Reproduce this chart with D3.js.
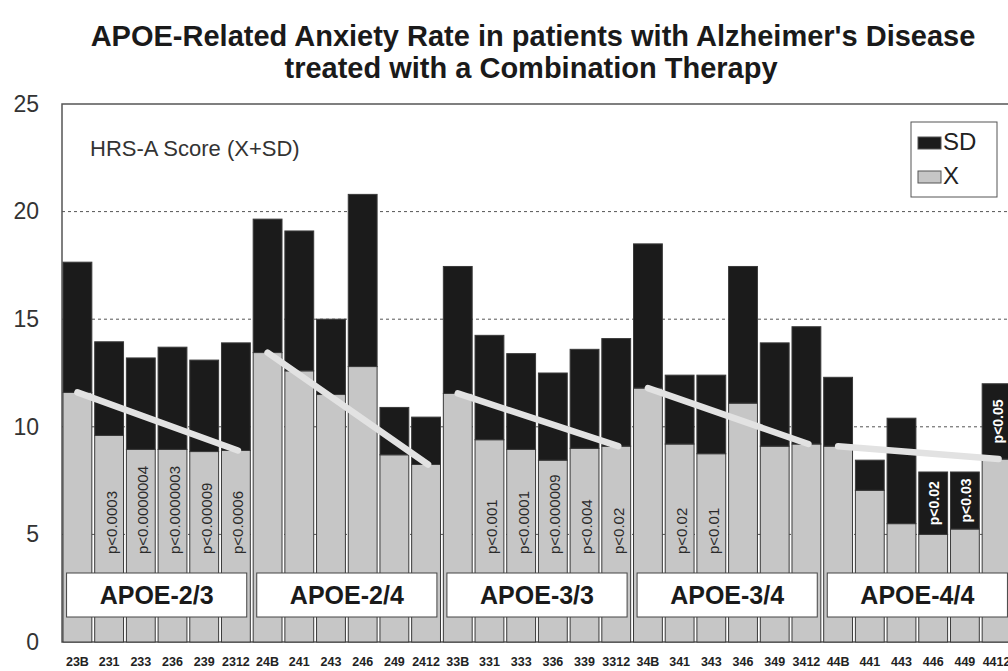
<!DOCTYPE html>
<html>
<head>
<meta charset="utf-8">
<script src="https://cdn.jsdelivr.net/npm/d3@7"></script>
<style>
  html, body { margin: 0; padding: 0; background: #fff; }
  svg { display: block; }
  text { font-family: "Liberation Sans", Arial, sans-serif; }
</style>
</head>
<body>
<svg id="chart" width="1008" height="671"></svg>
<script>
// Patient subgroups (genotype + treatment month), in plotting order
const categories = ["23B","231","233","236","239","2312",
                    "24B","241","243","246","249","2412",
                    "33B","331","333","336","339","3312",
                    "34B","341","343","346","349","3412",
                    "44B","441","443","446","449","4412"];

// Mean HRS-A score (X)
const meanX = [11.6, 9.6, 8.95, 8.95, 8.85, 8.9,
               13.45, 12.6, 11.5, 12.8, 8.7, 8.25,
               11.55, 9.4, 8.95, 8.45, 9.0, 9.1,
               11.8, 9.2, 8.75, 11.1, 9.1, 9.2,
               9.1, 7.05, 5.5, 5.0, 5.25, 8.5];

// Standard deviation (SD), stacked on top of the mean
const sdValues = [6.05, 4.35, 4.25, 4.75, 4.25, 5.0,
                  6.2, 6.5, 3.5, 8.0, 2.2, 2.2,
                  5.9, 4.85, 4.45, 4.05, 4.6, 5.0,
                  6.7, 3.2, 3.65, 6.35, 4.8, 5.45,
                  3.2, 1.4, 4.9, 2.9, 2.65, 3.5];

// APOE genotype groups, six subgroups each
const groups = ["APOE-2/3", "APOE-2/4", "APOE-3/3", "APOE-3/4", "APOE-4/4"];
const groupSize = 6;

// Significance vs. baseline; onSD marks labels printed on the SD segment
const pLabels = [
  {cat: "231",  text: "p<0.0003",    onSD: false},
  {cat: "233",  text: "p<0.0000004", onSD: false},
  {cat: "236",  text: "p<0.0000003", onSD: false},
  {cat: "239",  text: "p<0.00009",   onSD: false},
  {cat: "2312", text: "p<0.0006",    onSD: false},
  {cat: "331",  text: "p<0.001",     onSD: false},
  {cat: "333",  text: "p<0.0001",    onSD: false},
  {cat: "336",  text: "p<0.000009",  onSD: false},
  {cat: "339",  text: "p<0.004",     onSD: false},
  {cat: "3312", text: "p<0.02",      onSD: false},
  {cat: "341",  text: "p<0.02",      onSD: false},
  {cat: "343",  text: "p<0.01",      onSD: false},
  {cat: "446",  text: "p<0.02",      onSD: true},
  {cat: "449",  text: "p<0.03",      onSD: true},
  {cat: "4412", text: "p<0.05",      onSD: true}
];

const yTicks = [0, 5, 10, 15, 20, 25];
const gridTicks = [5, 10, 15, 20];

const svg = d3.select("#chart");
const plotLeft = 62, plotTop = 104, plotBottom = 642, plotRight = 1011;

const x = d3.scaleBand().domain(categories).range([plotLeft + 1, plotRight]).paddingInner(0.09).paddingOuter(0);
const y = d3.scaleLinear().domain([0, 25]).range([plotBottom, plotTop]);

const rows = categories.map((c, i) => ({cat: c, x: meanX[i], sd: sdValues[i]}));

// Title
svg.append("text").attr("x", 533).attr("y", 46).attr("text-anchor", "middle")
  .attr("font-size", 29).attr("font-weight", "bold").attr("fill", "#1a1a1a")
  .text("APOE-Related Anxiety Rate in patients with Alzheimer's Disease");
svg.append("text").attr("x", 531).attr("y", 78).attr("text-anchor", "middle")
  .attr("font-size", 29).attr("font-weight", "bold").attr("fill", "#1a1a1a")
  .text("treated with a Combination Therapy");

// Dashed gridlines (behind bars)
svg.append("g").selectAll("line").data(gridTicks).join("line")
  .attr("x1", plotLeft).attr("x2", plotRight)
  .attr("y1", d => y(d)).attr("y2", d => y(d))
  .attr("stroke", "#555").attr("stroke-width", 1).attr("stroke-dasharray", "3,3");

// Plot frame
svg.append("path")
  .attr("d", `M${plotRight},${plotTop}H${plotLeft}V${plotBottom}H${plotRight}`)
  .attr("fill", "none").attr("stroke", "#555").attr("stroke-width", 1.5);

// Y axis labels
const yAxis = d3.axisLeft(y).tickValues(yTicks).tickSize(0).tickPadding(0).tickFormat(d3.format("d"));
const gy = svg.append("g").attr("transform", `translate(39,0)`).call(yAxis);
gy.select(".domain").remove();
gy.selectAll("text").attr("font-size", 23).attr("fill", "#333")
  .attr("font-family", "Liberation Sans, Arial, sans-serif");

// Stacked bars: mean (grey) + SD (black)
const bars = svg.append("g");
bars.selectAll("rect.mean").data(rows).join("rect").attr("class", "mean")
  .attr("x", d => x(d.cat)).attr("width", x.bandwidth())
  .attr("y", d => y(d.x)).attr("height", d => y(0) - y(d.x))
  .attr("fill", "#c6c6c6").attr("stroke", "#3a3a3a").attr("stroke-width", 1);
bars.selectAll("rect.sd").data(rows).join("rect").attr("class", "sd")
  .attr("x", d => x(d.cat)).attr("width", x.bandwidth())
  .attr("y", d => y(d.x + d.sd)).attr("height", d => y(d.x) - y(d.x + d.sd))
  .attr("fill", "#1b1b1b").attr("stroke", "#3a3a3a").attr("stroke-width", 1);

// Trend of the mean within each genotype group (first to last subgroup)
const trend = svg.append("g");
groups.forEach((g, gi) => {
  const a = rows[gi * groupSize], b = rows[gi * groupSize + groupSize - 1];
  trend.append("line")
    .attr("x1", x(a.cat) + x.bandwidth() / 2).attr("y1", y(a.x))
    .attr("x2", x(b.cat) + x.bandwidth() / 2 + 2).attr("y2", y(b.x))
    .attr("stroke", "#e2e2e2").attr("stroke-width", 6.5).attr("stroke-linecap", "round");
});

// p-value annotations (rotated)
const pg = svg.append("g");
pLabels.forEach(p => {
  const r = rows[categories.indexOf(p.cat)];
  const cx = x(p.cat) + x.bandwidth() / 2;
  if (!p.onSD) {
    pg.append("text")
      .attr("transform", `translate(${cx + 2},${554}) rotate(-90)`)
      .attr("dominant-baseline", "central")
      .attr("font-size", 15).attr("fill", "#2a2a2a").text(p.text);
  } else {
    const mid = (y(r.x) + y(r.x + r.sd)) / 2;
    pg.append("text")
      .attr("transform", `translate(${cx + 1},${mid}) rotate(-90)`)
      .attr("dominant-baseline", "central").attr("text-anchor", "middle")
      .attr("font-size", 14).attr("font-weight", "bold").attr("fill", "#fff").text(p.text);
  }
});

// Genotype group boxes
const gb = svg.append("g");
groups.forEach((g, gi) => {
  const x0 = x(categories[gi * groupSize]) - x.step() * x.paddingInner() / 2;
  const w = x.step() * groupSize;
  gb.append("rect").attr("x", x0 + 5).attr("y", 573).attr("width", w - 10).attr("height", 44)
    .attr("fill", "#fff").attr("stroke", "#444").attr("stroke-width", 1);
  gb.append("text").attr("x", x0 + w / 2).attr("y", 604).attr("text-anchor", "middle")
    .attr("font-size", 25).attr("font-weight", "bold").attr("fill", "#1a1a1a").text(g);
});

// X axis category labels
const xAxis = d3.axisBottom(x).tickSize(0).tickPadding(0);
const gx = svg.append("g").attr("transform", `translate(0,${plotBottom + 15})`).call(xAxis);
gx.select(".domain").remove();
gx.selectAll("text").attr("font-size", 12.5).attr("font-weight", "bold").attr("fill", "#222")
  .attr("font-family", "Liberation Sans, Arial, sans-serif");

// Score caption
svg.append("text").attr("x", 90).attr("y", 156).attr("font-size", 22).attr("fill", "#333")
  .text("HRS-A Score (X+SD)");

// Legend
const lg = svg.append("g");
lg.append("rect").attr("x", 911).attr("y", 122).attr("width", 86).attr("height", 75)
  .attr("fill", "#fff").attr("stroke", "#555").attr("stroke-width", 1);
const legendItems = [{label: "SD", fill: "#1b1b1b", yy: 137}, {label: "X", fill: "#c6c6c6", yy: 171}];
legendItems.forEach(it => {
  lg.append("rect").attr("x", 918).attr("y", it.yy).attr("width", 23).attr("height", 12)
    .attr("fill", it.fill).attr("stroke", "#555").attr("stroke-width", 1);
  lg.append("text").attr("x", 943).attr("y", it.yy + 13).attr("font-size", 24).attr("fill", "#222")
    .text(it.label);
});
</script>
</body>
</html>
